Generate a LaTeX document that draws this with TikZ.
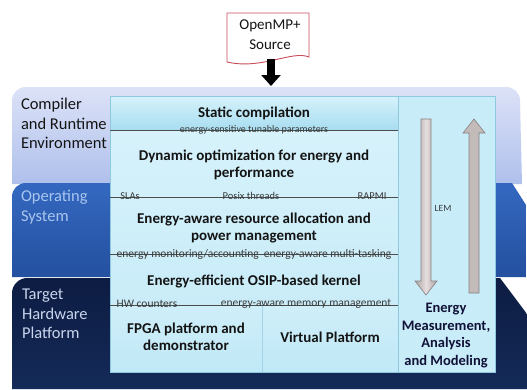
\documentclass[tikz,border=0pt]{standalone}
\usepackage{fontspec}
\setmainfont{Carlito}
\usetikzlibrary{arrows.meta}
\definecolor{cmpTop}{HTML}{DCE2F7}
\definecolor{cmpBot}{HTML}{AFC0EC}
\definecolor{osTop}{HTML}{3468C0}
\definecolor{osBot}{HTML}{24509F}
\definecolor{hwTop}{HTML}{0D1C42}
\definecolor{hwBot}{HTML}{142A58}
\definecolor{pnl}{HTML}{C4EAF7}
\definecolor{pnlTop}{HTML}{D6F2FB}
\definecolor{pnlBand}{HTML}{A8DDF0}
\definecolor{pnlEdge}{HTML}{8FC9E0}
\definecolor{colR}{HTML}{C8EDF9}
\definecolor{hdTxt}{HTML}{141414}
\definecolor{smTxt}{HTML}{3A3A3A}
\definecolor{osTxt}{HTML}{A9C6EE}
\definecolor{hwTxt}{HTML}{C9D5EC}
\definecolor{arrDark}{HTML}{ABA2A2}
\definecolor{arrLight}{HTML}{E6DEDE}
\definecolor{arrEdge}{HTML}{878080}
\definecolor{docEdge}{HTML}{C84E5A}
\begin{document}
\begin{tikzpicture}[x=1pt,y=-1pt,
  every node/.style={inner sep=0pt, outer sep=0pt},
  laylabel/.style={align=left, anchor=west, font=\fontsize{16.5}{19.5}\selectfont},
  heading/.style={align=center, text=hdTxt, font=\fontsize{15}{17.5}\selectfont\bfseries},
  small/.style={text=smTxt, font=\fontsize{10}{11}\selectfont},
  divline/.style={draw=black!70, line width=0.6pt},
  blockarrow/.style={draw=arrEdge, line width=0.6pt, left color=arrDark, right color=arrDark, middle color=arrLight}
]
\useasboundingbox (0,0) rectangle (527,389);
\fill[white] (0,0) rectangle (527,389);

% ---- layers ----
\shade[top color=cmpTop, bottom color=cmpBot]
  (12,184) -- (12,101) .. controls (12,93) and (18,87) .. (26,87)
  -- (506,87) .. controls (514,87) and (520,93) .. (520,101) -- (522,184) -- cycle;
\shade[top color=osTop, bottom color=osBot]
  (12,277) -- (12,197) .. controls (12,189) and (18,183) .. (26,183)
  -- (512,183) -- (526,205) -- (526,277) -- cycle;
\shade[top color=hwTop, bottom color=hwBot]
  (12,389) -- (12,293) .. controls (12,285) and (19,278) .. (27,278)
  -- (500,278) -- (527,314) -- (527,389) -- cycle;

% ---- inner panel ----
\shade[top color=pnlTop, bottom color=pnl] (110,130) rectangle (398,372);
\shade[top color=pnlTop, bottom color=pnlBand] (110,96) rectangle (398,130);
\shade[top color=pnlTop!60!pnl, bottom color=pnl!85!pnlBand] (110,305) rectangle (398,372);
\fill[colR] (398,96) rectangle (495,372);
\draw[pnlEdge, line width=0.5pt] (110,96) rectangle (495,372);
\draw[pnlEdge, line width=0.5pt] (398,96) -- (398,372);
\draw[pnlEdge!80!white, line width=0.6pt] (262,305) -- (262,372);

% ---- divider lines ----
\draw[divline] (110,130) -- (398,130);
\draw[divline] (110,197) -- (398,197);
\draw[divline] (110,254) -- (398,254);
\draw[divline] (110,305) -- (398,305);

% ---- layer labels ----
\node[laylabel, text=hdTxt] (lcmp) at (21,123.5) {Compiler\\and Runtime\\Environment};
\node[laylabel, text=osTxt] (los) at (21,207) {Operating\\System};
\node[laylabel, text=hwTxt] (lhw) at (22,314) {Target\\Hardware\\Platform};

% ---- headings ----
\node[heading] (stat) at (254,113) {Static compilation};
\node[heading] (dyn) at (254,165) {Dynamic optimization for energy and\\performance};
\node[heading] (res) at (254,228) {Energy-aware resource allocation and\\power management};
\node[heading] (kern) at (254,281) {Energy-efficient OSIP-based kernel};
\node[heading] (fpga) at (186,337) {FPGA platform and\\demonstrator};
\node[heading] (vp) at (330,337) {Virtual Platform};
\node[heading, text=hdTxt!85!blue, font=\fontsize{14.5}{17.7}\selectfont\bfseries] (lem2) at (446,335.5) {Energy\\Measurement,\\Analysis\\and Modeling};

% ---- small labels ----
\node[small] (tun) at (254,130) {energy-sensitive tunable parameters};
\node[small, font=\fontsize{10.5}{11}\selectfont] (sla) at (130,196) {SLAs};
\node[small, font=\fontsize{10.5}{11}\selectfont] (posix) at (251,196) {Posix threads};
\node[small, font=\fontsize{10.5}{11}\selectfont] (rapmi) at (372,196) {RAPMI};
\node[small, font=\fontsize{11.5}{12}\selectfont] (mon) at (254,254) {energy monitoring/accounting\ \ energy-aware multi-tasking};
\node[small, font=\fontsize{11.5}{12}\selectfont] (hwc) at (147,304) {HW counters};
\node[small, font=\fontsize{11.5}{12}\selectfont] (mem) at (306,304) {energy-aware memory management};
\node[small, font=\fontsize{9.5}{11}\selectfont] (lem) at (443,208) {LEM};

% ---- block arrows in right column ----
\path[blockarrow] (421,119) -- (431,119) -- (431,281) -- (437,281) -- (426,295) -- (415,281) -- (421,281) -- cycle;
\path[blockarrow, left color=arrDark!60!arrLight, right color=arrDark!60!arrLight] (469,293) -- (479,293) -- (479,133) -- (485,133) -- (474,119) -- (463,133) -- (469,133) -- cycle;

% ---- source document ----
\draw[docEdge, fill=white, line width=0.9pt]
  (227,13) -- (309,13) -- (309,57) .. controls (292,50) and (262,70) .. (227,62) -- cycle;
\node[align=center, text=hdTxt, font=\fontsize{15}{20}\selectfont] (src) at (270,35) {OpenMP+\\Source};
\coordinate (srcb) at (271,59);
\coordinate (cmpt) at (271,86);
\draw[line width=8pt, -{Triangle[width=19pt,length=11pt]}] (srcb) -- (cmpt);
\end{tikzpicture}
\end{document}
